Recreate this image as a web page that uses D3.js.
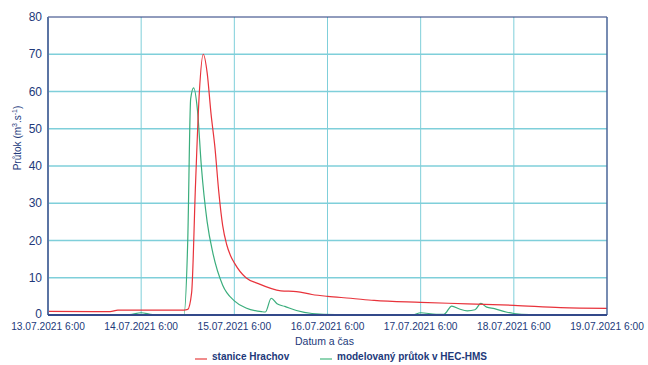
<!DOCTYPE html>
<html>
<head>
<meta charset="utf-8">
<script src="https://cdn.jsdelivr.net/npm/d3@7"></script>
<style>
  body { margin: 0; background: #fff; }
  svg { font-family: "Liberation Sans", Arial, sans-serif; }
</style>
</head>
<body>
<svg id="chart" width="648" height="365"></svg>
<script>
// stanice Hrachov (measured)
const redTimes = [
  "2021-07-13T06:00", "2021-07-13T18:00", "2021-07-13T22:00", "2021-07-14T00:00",
  "2021-07-14T12:00", "2021-07-14T17:00", "2021-07-14T18:00", "2021-07-14T19:00",
  "2021-07-14T20:00", "2021-07-14T21:00", "2021-07-14T22:00", "2021-07-14T23:00",
  "2021-07-15T00:00", "2021-07-15T01:00", "2021-07-15T02:00", "2021-07-15T03:00",
  "2021-07-15T04:00", "2021-07-15T05:00", "2021-07-15T06:00", "2021-07-15T09:00",
  "2021-07-15T12:00", "2021-07-15T18:00", "2021-07-15T22:00", "2021-07-16T02:00",
  "2021-07-16T06:00", "2021-07-16T12:00", "2021-07-16T18:00", "2021-07-17T06:00",
  "2021-07-17T18:00", "2021-07-18T06:00", "2021-07-18T18:00", "2021-07-19T06:00"
];
const redValues = [
  1.0, 0.9, 0.9, 1.3,
  1.3, 1.3, 1.5, 6,
  35, 60, 70, 65,
  54, 45, 33, 24,
  19, 16, 14, 10,
  8.5, 6.5, 6.3, 5.5,
  5.0, 4.5, 3.9, 3.4,
  3.0, 2.6, 2.0, 1.8
];

// modelovaný průtok v HEC-HMS
const greenTimes = [
  "2021-07-13T06:00", "2021-07-14T03:00", "2021-07-14T06:00", "2021-07-14T09:00",
  "2021-07-14T17:00", "2021-07-14T18:00", "2021-07-14T18:45", "2021-07-14T19:30",
  "2021-07-14T20:30", "2021-07-14T21:30", "2021-07-14T23:00", "2021-07-15T00:30",
  "2021-07-15T03:00", "2021-07-15T06:00", "2021-07-15T09:00", "2021-07-15T13:00",
  "2021-07-15T14:00", "2021-07-15T15:30", "2021-07-15T17:00", "2021-07-15T19:00",
  "2021-07-15T22:00", "2021-07-16T02:00", "2021-07-16T08:00", "2021-07-17T04:00",
  "2021-07-17T06:00", "2021-07-17T10:00", "2021-07-17T12:00", "2021-07-17T14:00",
  "2021-07-17T16:00", "2021-07-17T18:00", "2021-07-17T20:00", "2021-07-17T21:30",
  "2021-07-17T23:00", "2021-07-18T01:00", "2021-07-18T04:00", "2021-07-18T06:00",
  "2021-07-18T10:00", "2021-07-19T06:00"
];
const greenValues = [
  0.1, 0.1, 0.6, 0.1,
  0.1, 20, 58, 61,
  55, 40, 25, 16.5,
  8, 3.8, 1.9, 0.9,
  0.8, 4.5, 3.0, 2.3,
  1.2, 0.4, 0.1, 0.1,
  0.6, 0.2, 0.2, 2.4,
  1.6, 1.1, 1.4, 3.1,
  2.1, 1.7, 0.8, 0.4,
  0.1, 0.05
];

const yTicks = [0, 10, 20, 30, 40, 50, 60, 70, 80];
const xTickLabels = [
  "13.07.2021 6:00", "14.07.2021 6:00", "15.07.2021 6:00", "16.07.2021 6:00",
  "17.07.2021 6:00", "18.07.2021 6:00", "19.07.2021 6:00"
];
const seriesNames = ["stanice Hrachov", "modelovaný průtok v HEC-HMS"];

const parseTime = d3.timeParse("%Y-%m-%dT%H:%M");
const parseLabel = d3.timeParse("%d.%m.%Y %H:%M");

const svg = d3.select("#chart");
const margin = { top: 17, right: 41, bottom: 50, left: 48 };
const width = 648 - margin.left - margin.right;
const height = 365 - margin.top - margin.bottom;

const navy = "#22397a";
const gridColor = "#7fcfda";
const redColor = "#e8333b";
const greenColor = "#3aad7c";

const x = d3
  .scaleTime()
  .domain([parseLabel(xTickLabels[0]), parseLabel(xTickLabels[xTickLabels.length - 1])])
  .range([0, width]);
const y = d3.scaleLinear().domain([0, 80]).range([height, 0]);

const g = svg
  .append("g")
  .attr("transform", `translate(${margin.left}, ${margin.top})`);

// grid
g.append("g")
  .selectAll("line")
  .data(yTicks.slice(1, -1))
  .enter()
  .append("line")
  .attr("x1", 0)
  .attr("x2", width)
  .attr("y1", (d) => y(d))
  .attr("y2", (d) => y(d))
  .attr("stroke", gridColor)
  .attr("stroke-width", 1.4);

g.append("g")
  .selectAll("line")
  .data(xTickLabels.slice(1, -1))
  .enter()
  .append("line")
  .attr("x1", (d) => x(parseLabel(d)))
  .attr("x2", (d) => x(parseLabel(d)))
  .attr("y1", 0)
  .attr("y2", height)
  .attr("stroke", gridColor)
  .attr("stroke-width", 1);

// lines
const line = d3
  .line()
  .x((d) => x(d[0]))
  .y((d) => y(d[1]))
  .curve(d3.curveMonotoneX);

const greenData = greenTimes.map((t, i) => [parseTime(t), greenValues[i]]);
const redData = redTimes.map((t, i) => [parseTime(t), redValues[i]]);

g.append("path")
  .datum(greenData)
  .attr("d", line)
  .attr("fill", "none")
  .attr("stroke", greenColor)
  .attr("stroke-width", 1.2);

g.append("path")
  .datum(redData)
  .attr("d", line)
  .attr("fill", "none")
  .attr("stroke", redColor)
  .attr("stroke-width", 1.2);

// frame
g.append("line")
  .attr("x1", 0).attr("x2", width).attr("y1", 0).attr("y2", 0)
  .attr("stroke", navy).attr("stroke-width", 1);
g.append("line")
  .attr("x1", width).attr("x2", width).attr("y1", 0).attr("y2", height)
  .attr("stroke", "#4a6699").attr("stroke-width", 1.5);
g.append("line")
  .attr("x1", 0).attr("x2", 0).attr("y1", 0).attr("y2", height)
  .attr("stroke", "#5b74a3").attr("stroke-width", 2);
g.append("line")
  .attr("x1", 0).attr("x2", width).attr("y1", height).attr("y2", height)
  .attr("stroke", "#33498a").attr("stroke-width", 2);

// axes labels
g.append("g")
  .selectAll("text")
  .data(yTicks)
  .enter()
  .append("text")
  .attr("x", -6)
  .attr("y", (d) => y(d))
  .attr("dy", (d) => (d === 0 ? "0.25em" : "0.35em"))
  .attr("text-anchor", "end")
  .attr("fill", navy)
  .attr("font-size", 12)
  .text((d) => d);

g.append("g")
  .selectAll("text")
  .data(xTickLabels)
  .enter()
  .append("text")
  .attr("x", (d) => x(parseLabel(d)))
  .attr("y", height + 15)
  .attr("text-anchor", "middle")
  .attr("fill", navy)
  .attr("font-size", 10.2)
  .text((d) => d);

const yLabel = svg
  .append("text")
  .attr("transform", `translate(21, 138) rotate(-90)`)
  .attr("text-anchor", "middle")
  .attr("fill", navy)
  .attr("font-size", 10);
yLabel.append("tspan").text("Průtok (m");
yLabel.append("tspan").attr("dy", -4).attr("font-size", 7).text("3");
yLabel.append("tspan").attr("dy", 4).text(".s");
yLabel.append("tspan").attr("dy", -4).attr("font-size", 7).text("-1");
yLabel.append("tspan").attr("dy", 4).text(")");

svg
  .append("text")
  .attr("x", margin.left + width / 2 - 3)
  .attr("y", 345)
  .attr("text-anchor", "middle")
  .attr("fill", navy)
  .attr("font-size", 10.5)
  .text("Datum a čas");

// legend
const legendItems = [
  { name: seriesNames[0], color: "#f08c8c", x: 195 },
  { name: seriesNames[1], color: "#8fd4b2", x: 320 },
];

const legendG = svg
  .append("g")
  .selectAll(".legend")
  .data(legendItems)
  .enter()
  .append("g")
  .attr("class", "legend")
  .attr("transform", (d) => `translate(${d.x}, 359)`);

legendG
  .append("line")
  .attr("x1", 0)
  .attr("x2", 12)
  .attr("y1", 0)
  .attr("y2", 0)
  .attr("stroke", (d) => d.color)
  .attr("stroke-width", 2);

legendG
  .append("text")
  .attr("x", 17)
  .attr("y", 0)
  .attr("dy", "0.1em")
  .attr("fill", navy)
  .attr("font-size", 10)
  .attr("font-weight", "bold")
  .text((d) => d.name);
</script>
</body>
</html>
